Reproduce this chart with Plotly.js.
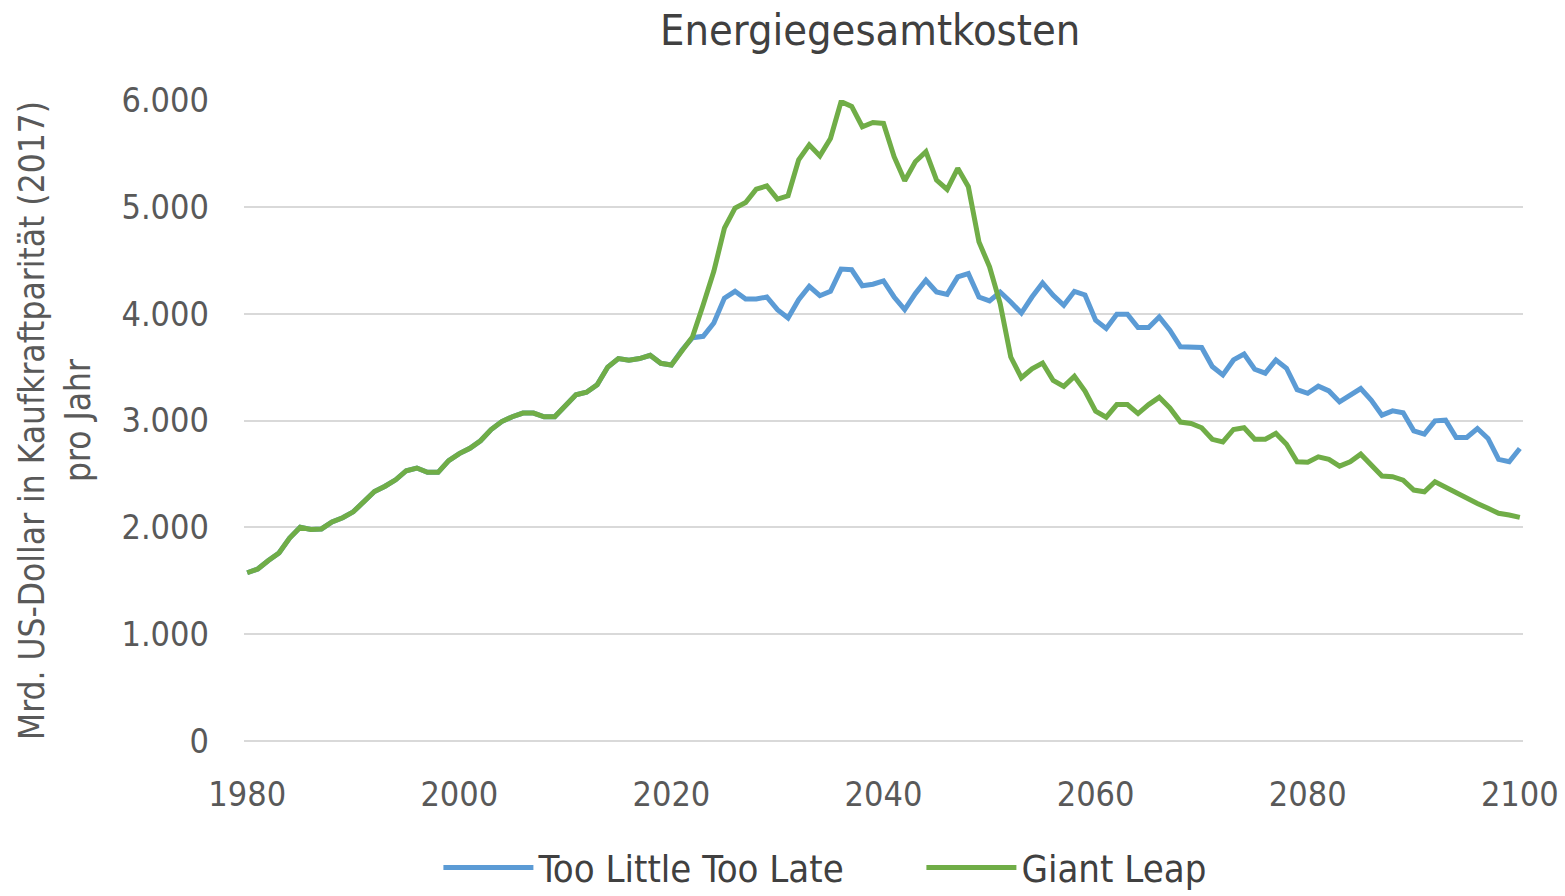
<!DOCTYPE html>
<html>
<head>
<meta charset="utf-8">
<script src="https://cdn.plot.ly/plotly-3.0.1.min.js"></script>
<style>
html,body{margin:0;padding:0;background:#fff;}
#chart{width:1565px;height:896px;}
</style>
</head>
<body>
<div id="chart"></div>
<script>
const years = [1980,1981,1982,1983,1984,1985,1986,1987,1988,1989,
1990,1991,1992,1993,1994,1995,1996,1997,1998,1999,
2000,2001,2002,2003,2004,2005,2006,2007,2008,2009,
2010,2011,2012,2013,2014,2015,2016,2017,2018,2019,
2020,2021,2022,2023,2024,2025,2026,2027,2028,2029,
2030,2031,2032,2033,2034,2035,2036,2037,2038,2039,
2040,2041,2042,2043,2044,2045,2046,2047,2048,2049,
2050,2051,2052,2053,2054,2055,2056,2057,2058,2059,
2060,2061,2062,2063,2064,2065,2066,2067,2068,2069,
2070,2071,2072,2073,2074,2075,2076,2077,2078,2079,
2080,2081,2082,2083,2084,2085,2086,2087,2088,2089,
2090,2091,2092,2093,2094,2095,2096,2097,2098,2099,2100];

const tooLittleTooLate = [1575,1610,1690,1760,1900,2000,1980,1985,2050,2090,
2145,2240,2335,2385,2445,2530,2555,2515,2515,2625,
2690,2740,2810,2915,2990,3035,3070,3070,3035,3035,
3140,3240,3265,3335,3500,3580,3565,3580,3610,3535,
3520,3660,3775,3788,3913,4146,4209,4137,4137,4156,
4037,3960,4131,4255,4168,4209,4417,4411,4262,4276,
4306,4156,4038,4188,4313,4203,4181,4344,4375,4156,
4119,4203,4109,4006,4156,4288,4172,4078,4209,4175,
3938,3861,3994,3994,3870,3870,3969,3845,3690,3690,
3684,3505,3427,3567,3622,3480,3443,3567,3489,3288,
3255,3321,3277,3174,3237,3299,3190,3050,3090,3072,
2903,2872,2997,3003,2841,2841,2925,2832,2636,2614,2738];

const giantLeap = [1575,1610,1690,1760,1900,2000,1980,1985,2050,2090,
2145,2240,2335,2385,2445,2530,2555,2515,2515,2625,
2690,2740,2810,2915,2990,3035,3070,3070,3035,3035,
3140,3240,3265,3335,3500,3580,3565,3580,3610,3535,
3520,3660,3785,4084,4396,4800,4988,5040,5165,5196,
5072,5103,5440,5580,5477,5640,5985,5940,5750,5790,
5781,5469,5244,5422,5516,5250,5163,5360,5188,4672,
4438,4094,3594,3400,3484,3538,3375,3319,3413,3275,
3087,3031,3149,3149,3065,3149,3217,3118,2985,2972,
2932,2824,2799,2916,2932,2824,2824,2879,2777,2613,
2610,2660,2636,2573,2614,2685,2583,2480,2474,2442,
2349,2333,2427,2374,2318,2271,2224,2178,2131,2115,2093];

const xTicks = [1980,2000,2020,2040,2060,2080,2100];
const yTicks = [0,1000,2000,3000,4000,5000,6000];
const yTickText = ["0","1.000","2.000","3.000","4.000","5.000","6.000"];

const FONT = '"Liberation Sans Narrow", "DejaVu Sans Condensed", sans-serif';

const traces = [
  {x: years, y: tooLittleTooLate, type: 'scatter', mode: 'lines', name: 'Too Little Too Late',
   line: {color: '#5b9bd5', width: 5}},
  {x: years, y: giantLeap, type: 'scatter', mode: 'lines', name: 'Giant Leap',
   line: {color: '#70ad47', width: 5}}
];

const layout = {
  width: 1565, height: 896,
  paper_bgcolor: '#ffffff', plot_bgcolor: '#ffffff',
  margin: {l: 244, r: 42, t: 100, b: 155, autoexpand: false},
  font: {family: FONT, color: '#595959'},
  title: {text: 'Energiegesamtkosten', x: 0.556, xanchor: 'center', y: 0.967, yanchor: 'middle',
          font: {family: FONT, size: 43, color: '#404040'}},
  xaxis: {range: [1979.7, 2100.3], tickvals: xTicks, ticktext: xTicks.map(String),
          showgrid: false, zeroline: false, showline: false, ticks: '', automargin: false,
          tickfont: {family: FONT, size: 34, color: '#595959'}, ticklabelstandoff: 30},
  yaxis: {range: [0, 6000], tickvals: yTicks, ticktext: yTickText, automargin: false,
          showgrid: true, gridcolor: '#d9d9d9', gridwidth: 1.5,
          zeroline: true, zerolinecolor: '#d9d9d9', zerolinewidth: 2, showline: false, ticks: '',
          tickfont: {family: FONT, size: 34, color: '#595959'}, ticklabelstandoff: 34,
          title: {text: 'Mrd. US-Dollar in Kaufkraftparität (2017)<br>pro Jahr',
                  font: {family: FONT, size: 35, color: '#595959'}, standoff: 20}},
  showlegend: true,
  legend: {orientation: 'h', x: 0.152, xanchor: 'left', y: -0.198, yanchor: 'middle',
           font: {family: FONT, size: 38, color: '#404040'}, itemwidth: 90,
           entrywidth: 378, entrywidthmode: 'pixels',
           bgcolor: 'rgba(0,0,0,0)'}
};

Plotly.newPlot('chart', traces, layout, {displayModeBar: false, responsive: false});
</script>
</body>
</html>
